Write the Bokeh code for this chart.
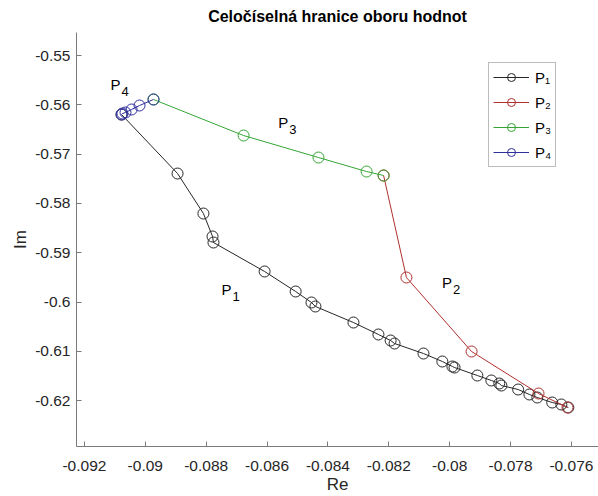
from bokeh.plotting import figure
from bokeh.models import Range1d, FixedTicker, Legend, LegendItem
from bokeh.core.properties import value
from bokeh.embed import file_html
from bokeh.resources import INLINE

# ---- data ----
p1_re = [-0.09078, -0.08894, -0.08809, -0.08779, -0.08776, -0.08608, -0.08506, -0.08454,
         -0.08441, -0.08316, -0.08234, -0.08194, -0.08181, -0.08086, -0.08024, -0.07991,
         -0.07984, -0.07909, -0.07863, -0.07837, -0.07830, -0.07775, -0.07738, -0.07712,
         -0.07663, -0.07633, -0.07610]
p1_im = [-0.56197, -0.57394, -0.58205, -0.58671, -0.58793, -0.59381, -0.59787, -0.60010,
         -0.60091, -0.60416, -0.60659, -0.60781, -0.60842, -0.61045, -0.61207, -0.61308,
         -0.61329, -0.61491, -0.61592, -0.61653, -0.61694, -0.61775, -0.61876, -0.61937,
         -0.62039, -0.62079, -0.62140]
p2_re = [-0.08217, -0.08142, -0.07928, -0.07708, -0.07613]
p2_im = [-0.57434, -0.59503, -0.61004, -0.61856, -0.62140]
p3_re = [-0.08973, -0.08677, -0.08431, -0.08273, -0.08217]
p3_im = [-0.55892, -0.56623, -0.57069, -0.57353, -0.57434]
p4_re = [-0.08973, -0.09019, -0.09045, -0.09065, -0.09075, -0.09078]
p4_im = [-0.55892, -0.56014, -0.56095, -0.56156, -0.56176, -0.56197]

series_names = ["P₁", "P₂", "P₃", "P₄"]
series_colors = ["#262626", "#b0302e", "#34a534", "#2e2e9e"]

# in-plot labels (P with subscript)
lab_letter = ["P", "P", "P", "P"]
lab_digit = ["1", "2", "3", "4"]
lab_re = [-0.08750, -0.08025, -0.08563, -0.09114]
lab_im = [-0.59753, -0.59598, -0.56359, -0.55588]

title_text = "Celočíselná hranice oboru hodnot"

x_ticks = [-0.092, -0.09, -0.088, -0.086, -0.084, -0.082, -0.08, -0.078, -0.076]
x_tick_labels = ["-0.092", "-0.09", "-0.088", "-0.086", "-0.084", "-0.082", "-0.08", "-0.078", "-0.076"]
y_ticks = [-0.55, -0.56, -0.57, -0.58, -0.59, -0.6, -0.61, -0.62]
y_tick_labels = ["-0.55", "-0.56", "-0.57", "-0.58", "-0.59", "-0.6", "-0.61", "-0.62"]

FONT = "Liberation Sans"
TXT = "#262626"

p = figure(width=598, height=496, output_backend="svg", toolbar_location=None,
           x_range=Range1d(-0.09226, -0.07511), y_range=Range1d(-0.62931, -0.54533),
           min_border_left=76, min_border_right=0, min_border_top=32, min_border_bottom=50,
           title=title_text)
p.outline_line_color = None
p.grid.visible = False
p.background_fill_color = "white"
p.border_fill_color = "white"

p.title.align = "center"
p.title.vertical_align = "top"
p.title.text_font = FONT
p.title.text_font_size = "16px"
p.title.text_font_style = "bold"
p.title.text_color = "#000000"
p.title.offset = 4
p.title.standoff = 12

for ax in (p.xaxis[0], p.yaxis[0]):
    ax.axis_line_color = "#7a7a7a"
    ax.major_tick_line_color = "#7a7a7a"
    ax.major_tick_in = 5
    ax.major_tick_out = 0
    ax.minor_tick_line_color = None
    ax.major_label_text_font = FONT
    ax.major_label_text_font_size = "15.5px"
    ax.major_label_text_color = TXT
    ax.axis_label_text_font = FONT
    ax.axis_label_text_font_size = "17px"
    ax.axis_label_text_font_style = "normal"
    ax.axis_label_text_color = TXT

p.xaxis.ticker = FixedTicker(ticks=x_ticks)
p.xaxis.major_label_overrides = dict(zip(x_ticks, x_tick_labels))
p.yaxis.ticker = FixedTicker(ticks=y_ticks)
p.yaxis.major_label_overrides = dict(zip(y_ticks, y_tick_labels))
p.xaxis.axis_label = "Re"
p.yaxis.axis_label = "Im"
p.xaxis.major_label_standoff = 14
p.xaxis.axis_label_standoff = 1
p.yaxis.major_label_standoff = 6
p.yaxis.axis_label_standoff = 2

items = []
for name, col, xs, ys in zip(series_names, series_colors,
                             [p1_re, p2_re, p3_re, p4_re], [p1_im, p2_im, p3_im, p4_im]):
    ln = p.line(xs, ys, line_color=col, line_width=1)
    sc = p.scatter(xs, ys, marker="circle", size=11, fill_color=None, line_color=col, line_width=1)
    items.append(LegendItem(label=name, renderers=[ln, sc]))

p.text(lab_re, lab_im, text=lab_letter, text_font=value(FONT), text_font_size="15px",
       text_color="#000000", text_align="left", text_baseline="alphabetic")
p.text(lab_re, lab_im, text=lab_digit, text_font=value(FONT), text_font_size="13px",
       text_color="#000000", text_align="left", text_baseline="alphabetic",
       x_offset=11, y_offset=7)

legend = Legend(items=items, location=(412, 279))
legend.label_text_font = FONT
legend.label_text_font_size = "15px"
legend.label_text_color = "#000000"
legend.glyph_width = 36
legend.glyph_height = 20
legend.label_height = 20
legend.label_width = 14
legend.spacing = 5
legend.padding = 4
legend.margin = 0
legend.label_standoff = 6
legend.border_line_color = "#7a7a7a"
legend.border_line_width = 1
legend.background_fill_color = "white"
legend.background_fill_alpha = 1
p.add_layout(legend)

open("out.html", "w").write(file_html(p, INLINE))
